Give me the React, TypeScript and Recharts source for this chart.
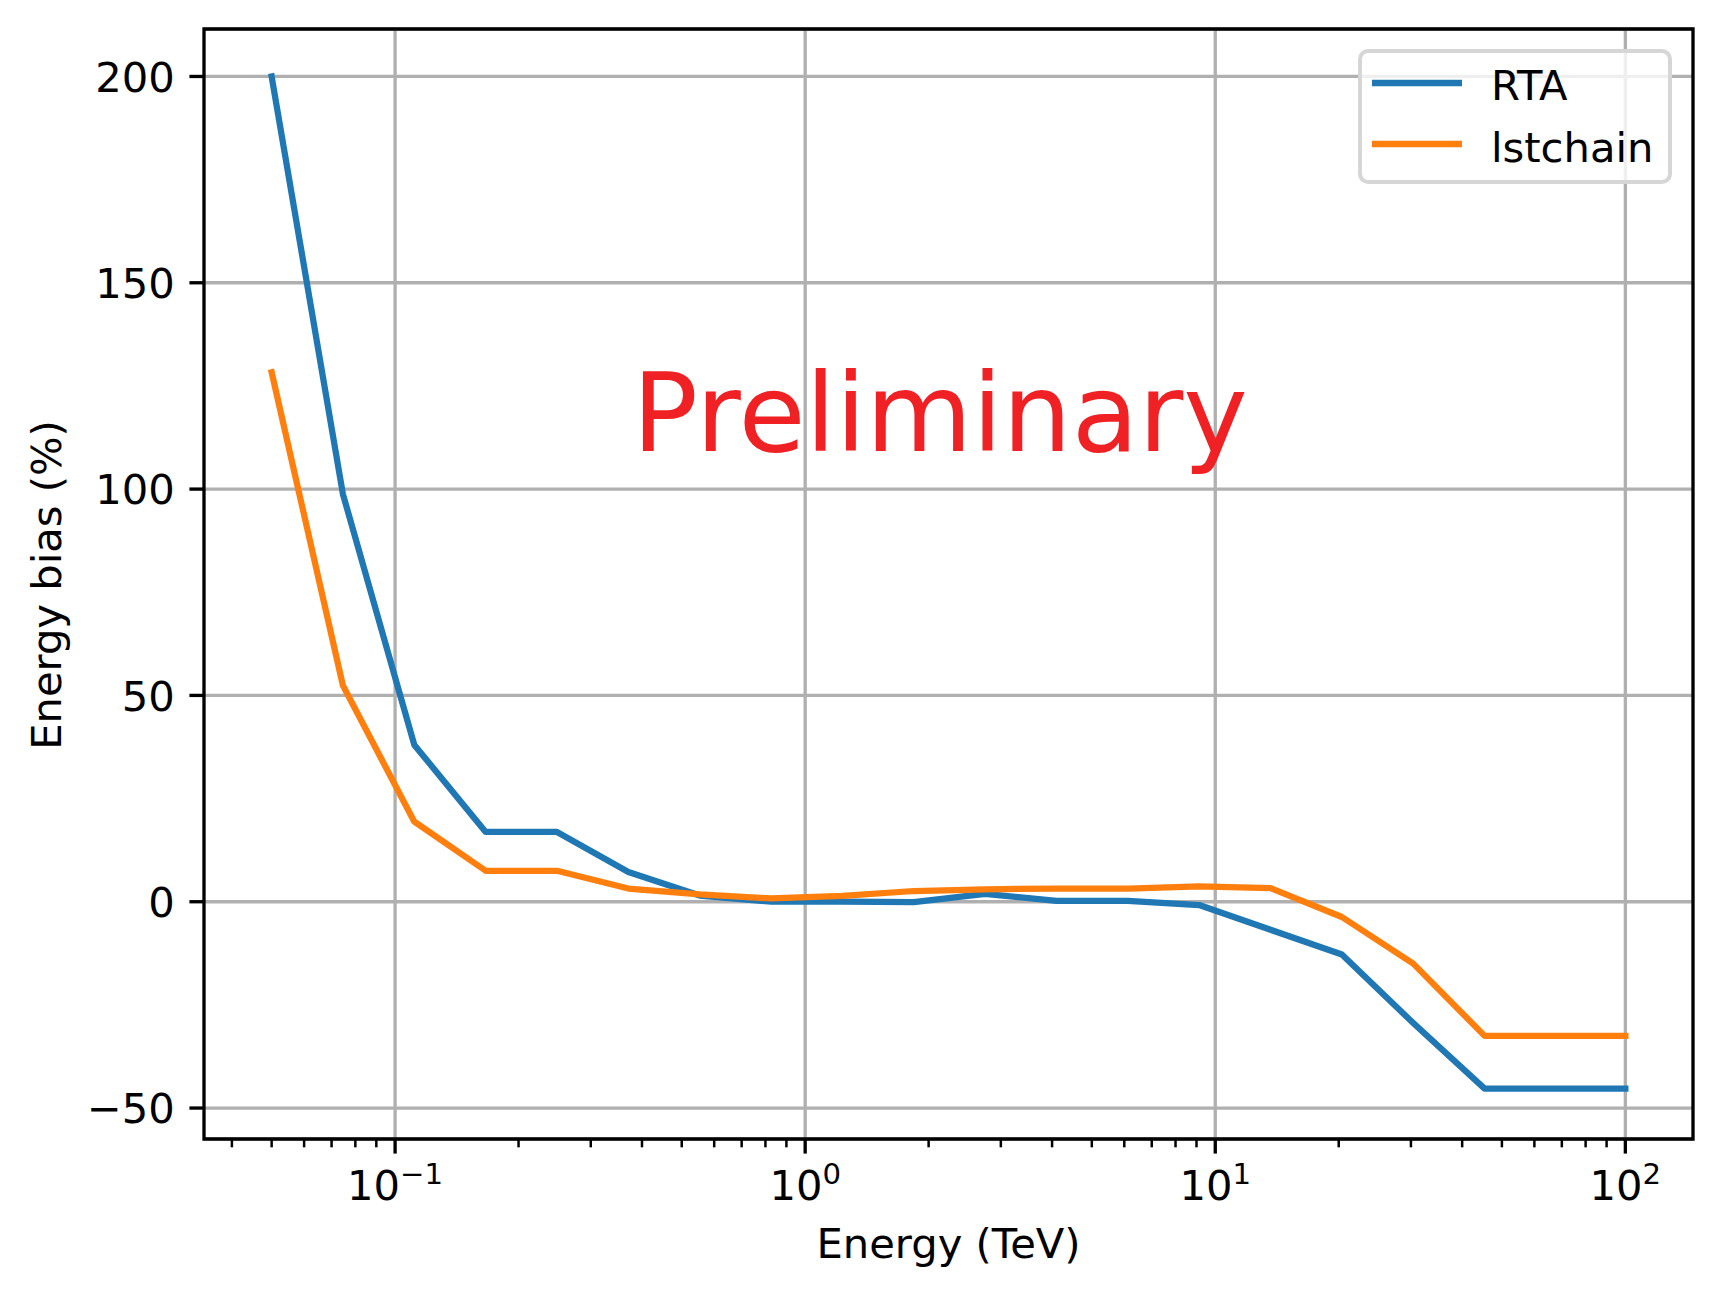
import React from "react";
import {
  LineChart,
  Line,
  XAxis,
  YAxis,
  CartesianGrid,
  ReferenceLine,
  ReferenceArea,
  Legend,
} from "recharts";

// ---- data ----
const ENERGY = [
  0.05, 0.0746, 0.1114, 0.1663, 0.2482, 0.3705, 0.5531, 0.8257, 1.233, 1.84,
  2.747, 4.1, 6.121, 9.137, 13.64, 20.36, 30.39, 45.37, 67.73, 100,
];
const RTA = [
  200, 98.8, 38.0, 16.9, 16.9, 7.2, 1.5, 0.0, 0.0, -0.1, 1.9, 0.2, 0.2, -0.8,
  -6.8, -12.8, -29.4, -45.3, -45.3, -45.3,
];
const LSTCHAIN = [
  128.3, 52.4, 19.4, 7.5, 7.5, 3.2, 1.8, 0.8, 1.4, 2.6, 3.0, 3.2, 3.2, 3.7, 3.3,
  -3.7, -15.0, -32.5, -32.5, -32.5,
];

const X_MAJOR_TICKS = [0.1, 1, 10, 100];
const X_MAJOR_EXPONENTS = ["\u22121", "0", "1", "2"];
const X_MINOR_TICKS = [
  0.04, 0.05, 0.06, 0.07, 0.08, 0.09, 0.2, 0.3, 0.4, 0.5, 0.6, 0.7, 0.8, 0.9, 2,
  3, 4, 5, 6, 7, 8, 9, 20, 30, 40, 50, 60, 70, 80, 90,
];
const Y_TICKS = [-50, 0, 50, 100, 150, 200];
const X_DOMAIN = [0.0342, 146.2];
const Y_DOMAIN = [-57.5, 211.5];

const SERIES = [
  { key: "rta", name: "RTA", color: "#1f77b4" },
  { key: "lstchain", name: "lstchain", color: "#ff7f0e" },
];

const data = ENERGY.map((e, i) => ({ e, rta: RTA[i], lstchain: LSTCHAIN[i] }));

// ---- styles ----
const FONT = "'DejaVu Sans', Verdana, sans-serif";
const FS = 41.67;
const PT = 4.1667;
const GRID = "#b0b0b0";

const XTick = (props: any) => {
  const { x, y, payload } = props;
  const v = payload.value;
  const idx = X_MAJOR_TICKS.findIndex((t) => Math.abs(t - v) / t < 1e-6);
  const major = idx >= 0;
  return (
    <g>
      <line
        x1={x}
        x2={x}
        y1={y}
        y2={y + (major ? 3.5 * PT : 2 * PT)}
        stroke="#000"
        strokeWidth={major ? 0.8 * PT : 0.6 * PT}
      />
      {major && (
        <text
          x={x}
          y={y + 61}
          textAnchor="middle"
          fontFamily={FONT}
          fontSize={FS}
          fill="#000"
        >
          <tspan>10</tspan>
          <tspan dy={-16} fontSize={FS * 0.7}>
            {X_MAJOR_EXPONENTS[idx]}
          </tspan>
        </text>
      )}
    </g>
  );
};

const YTick = (props: any) => {
  const { x, y, payload } = props;
  const v = payload.value;
  const label = v < 0 ? "\u2212" + Math.abs(v) : String(v);
  return (
    <g>
      <line
        x1={x - 3.5 * PT}
        x2={x}
        y1={y}
        y2={y}
        stroke="#000"
        strokeWidth={0.8 * PT}
      />
      <text
        x={x - 7 * PT}
        y={y + FS * 0.3645}
        textAnchor="end"
        fontFamily={FONT}
        fontSize={FS}
        fill="#000"
      >
        {label}
      </text>
    </g>
  );
};

const XLabel = (props: any) => {
  const vb = props.viewBox || {};
  return (
    <text
      x={vb.x + vb.width / 2}
      y={vb.y + 119}
      textAnchor="middle"
      fontFamily={FONT}
      fontSize={FS}
      fill="#000"
    >
      Energy (TeV)
    </text>
  );
};

const YLabel = (props: any) => {
  const vb = props.viewBox || {};
  const cx = vb.x + 7;
  const cy = vb.y + vb.height / 2 + 1;
  return (
    <text
      x={cx}
      y={cy}
      transform={`rotate(-90, ${cx}, ${cy})`}
      textAnchor="middle"
      fontFamily={FONT}
      fontSize={FS}
      fill="#000"
    >
      Energy bias (%)
    </text>
  );
};

const LegendBox = (props: any) => {
  const payload = props.payload || [];
  return (
    <svg width={314} height={135} style={{ display: "block" }}>
      <rect
        x={2}
        y={2}
        width={310}
        height={131}
        rx={8}
        ry={8}
        fill="#ffffff"
        fillOpacity={0.8}
        stroke="#d6d6d6"
        strokeWidth={4}
      />
      {payload.map((p: any, i: number) => (
        <g key={p.value}>
          <line
            x1={14}
            x2={104}
            y1={34 + i * 61}
            y2={34 + i * 61}
            stroke={p.color}
            strokeWidth={1.5 * PT}
          />
          <text
            x={133}
            y={50.5 + i * 62}
            fontFamily={FONT}
            fontSize={FS}
            fill="#000"
          >
            {p.value}
          </text>
        </g>
      ))}
    </svg>
  );
};

export default function App() {
  return (
    <div
      style={{
        position: "absolute",
        left: 0,
        top: 0,
        width: 1721,
        height: 1295,
        background: "#fff",
      }}
    >
      <LineChart
        width={1721}
        height={1295}
        data={data}
        margin={{ top: 29, right: 28, bottom: 56, left: 54 }}
      >
        <CartesianGrid
          vertical={false}
          stroke={GRID}
          strokeWidth={0.8 * PT}
        />
        {X_MAJOR_TICKS.map((t) => (
          <ReferenceLine
            key={t}
            x={t}
            stroke={GRID}
            strokeWidth={0.8 * PT}
            zIndex={-100}
          />
        ))}
        <XAxis
          dataKey="e"
          type="number"
          scale="log"
          domain={X_DOMAIN}
          allowDataOverflow
          ticks={[...X_MAJOR_TICKS, ...X_MINOR_TICKS]}
          interval={0}
          tick={XTick}
          tickLine={false}
          axisLine={false}
          tickSize={0}
          tickMargin={0}
          height={100}
          label={<XLabel />}
        />
        <YAxis
          type="number"
          domain={Y_DOMAIN}
          allowDataOverflow
          ticks={Y_TICKS}
          interval={0}
          tick={YTick}
          tickLine={false}
          axisLine={false}
          tickSize={0}
          tickMargin={0}
          width={150}
          label={<YLabel />}
        />
        {SERIES.map((s) => (
          <Line
            key={s.key}
            type="linear"
            dataKey={s.key}
            name={s.name}
            stroke={s.color}
            strokeWidth={1.5 * PT}
            strokeLinejoin="round"
            strokeLinecap="square"
            dot={false}
            activeDot={false}
            isAnimationActive={false}
          />
        ))}
        <ReferenceArea
          x1={X_DOMAIN[0]}
          x2={X_DOMAIN[1]}
          y1={Y_DOMAIN[0]}
          y2={Y_DOMAIN[1]}
          fill="none"
          fillOpacity={0}
          stroke="#000"
          strokeWidth={0.8 * PT}
          zIndex={1000}
        />
        <Legend
          layout="horizontal"
          verticalAlign="middle"
          align="center"
          content={<LegendBox />}
          wrapperStyle={{
            position: "absolute",
            left: 1358,
            top: 49,
            width: 314,
            height: 135,
            margin: 0,
            padding: 0,
          }}
        />
      </LineChart>
      <svg
        width={1721}
        height={1295}
        style={{ position: "absolute", left: 0, top: 0, pointerEvents: "none" }}
      >
        <text
          x={940}
          y={451}
          textAnchor="middle"
          fontFamily={FONT}
          fontSize={109}
          fill="#f02124"
        >
          Preliminary
        </text>
      </svg>
    </div>
  );
}
